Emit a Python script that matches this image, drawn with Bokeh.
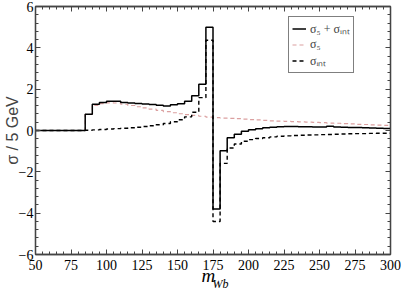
import numpy as np
from bokeh.plotting import figure
from bokeh.models import (Range1d, FixedTicker, LinearAxis, Legend, LegendItem,
                          CustomJSTickFormatter, Title)
from bokeh.embed import file_html
from bokeh.resources import INLINE

# ---- data: 5 GeV bins, lower edges 50 ... 295 ----
bin_lo = list(range(50, 300, 5))
bin_hi_last = 300

sig_total = [0, 0, 0, 0, 0, 0, 0,
             0.79, 1.27, 1.36, 1.42, 1.42, 1.35, 1.33, 1.31, 1.28, 1.26,
             1.22, 1.19, 1.24, 1.30, 1.42, 1.68, 2.24, 5.00, -3.80, -0.98,
             -0.35, -0.18, -0.04, 0.04, 0.09, 0.13, 0.16, 0.18, 0.19, 0.19,
             0.18, 0.18, 0.17, 0.17, 0.20, 0.17, 0.16, 0.15, 0.14, 0.13,
             0.12, 0.11, 0.10]

sig_5 = [0, 0, 0, 0, 0, 0, 0,
         0.78, 1.22, 1.30, 1.34, 1.33, 1.27, 1.21, 1.15, 1.09, 1.03,
         0.97, 0.91, 0.86, 0.81, 0.77, 0.73, 0.69, 0.65, 0.62, 0.60,
         0.59, 0.57, 0.55, 0.53, 0.51, 0.49, 0.47, 0.45, 0.44, 0.43,
         0.42, 0.41, 0.39, 0.38, 0.36, 0.35, 0.33, 0.32, 0.30, 0.29,
         0.27, 0.26, 0.25]

sig_int = [0, 0, 0, 0, 0, 0, 0,
           0.01, 0.03, 0.05, 0.07, 0.09, 0.11, 0.13, 0.16, 0.19, 0.23,
           0.28, 0.34, 0.42, 0.52, 0.66, 0.88, 1.59, 4.37, -4.40, -1.59,
           -0.85, -0.65, -0.52, -0.44, -0.39, -0.35, -0.31, -0.28, -0.26, -0.24,
           -0.23, -0.22, -0.21, -0.20, -0.19, -0.18, -0.17, -0.16, -0.15, -0.15,
           -0.14, -0.13, -0.13]

x_ticks = [50, 75, 100, 125, 150, 175, 200, 225, 250, 275, 300]
y_ticks = [-6, -4, -2, 0, 2, 4, 6]

label_total = "σ₅ + σᵢₙₜ"
label_5 = "σ₅"
label_int = "σᵢₙₜ"
y_title = "σ / 5 GeV"
x_title_main = "m"
x_title_sub = "Wb"

# ---- figure ----
SERIF = "Liberation Serif"
SANS = "Liberation Sans"
AX = "#444444"

p = figure(width=401, height=289, output_backend="svg", toolbar_location=None,
           x_range=Range1d(50, 300), y_range=Range1d(-6, 6),
           min_border_left=0, min_border_right=11, min_border_top=6,
           min_border_bottom=0)
p.background_fill_color = "white"
p.border_fill_color = "white"
p.outline_line_color = AX
p.outline_line_width = 1.3
p.xgrid.visible = False
p.ygrid.visible = False

xt = FixedTicker(ticks=x_ticks, minor_ticks=list(np.arange(50, 301, 5)))
yt = FixedTicker(ticks=y_ticks, minor_ticks=list(np.round(np.arange(-6, 6.01, 0.4), 2)))
blank = CustomJSTickFormatter(code="return ''")

def style_axis(ax, labels=True):
    ax.axis_line_color = AX
    ax.axis_line_width = 1.3
    ax.major_tick_line_color = AX
    ax.minor_tick_line_color = AX
    ax.major_tick_in = 5
    ax.major_tick_out = 0
    ax.minor_tick_in = 3
    ax.minor_tick_out = 0
    if labels:
        ax.major_label_text_font = SERIF
        ax.major_label_text_font_size = "14px"
        ax.major_label_text_color = "black"
        ax.major_label_standoff = 3
    else:
        ax.formatter = blank
        ax.major_label_text_font_size = "1px"
        ax.major_label_standoff = 0

p.xaxis.ticker = xt
p.yaxis.ticker = yt
style_axis(p.xaxis[0])
style_axis(p.yaxis[0])
p.yaxis.major_label_standoff = 2
p.xaxis.major_label_standoff = 5

# y title
p.yaxis.axis_label = y_title
p.yaxis.axis_label_text_font = SANS
p.yaxis.axis_label_text_font_style = "normal"
p.yaxis.axis_label_text_font_size = "16px"
p.yaxis.axis_label_standoff = -5

top = LinearAxis(ticker=xt)
style_axis(top, labels=False)
p.add_layout(top, "above")
right = LinearAxis(ticker=yt)
style_axis(right, labels=False)
p.add_layout(right, "right")

# x title: italic m with subscript Wb, as two titles below the axis
t_m = Title(text=x_title_main, align="left", offset=166, standoff=-20,
            text_font=SERIF, text_font_style="italic", text_font_size="19px",
            text_color="black")
p.add_layout(t_m, "below")
t_sub = Title(text=x_title_sub, align="left", offset=177, standoff=-2,
              text_font=SERIF, text_font_style="italic", text_font_size="12px",
              text_color="black")
p.add_layout(t_sub, "below")

# ---- step histograms ----
edges = bin_lo + [bin_hi_last]
def steps(vals):
    return list(vals) + [vals[-1]]

r5 = p.step(edges, steps(sig_5), mode="after", line_color="#dba0a0",
            line_width=1.2, line_dash="4 3")
rint = p.step(edges, steps(sig_int), mode="after", line_color="black",
              line_width=1.4, line_dash="4 3")
rtot = p.step(edges, steps(sig_total), mode="after", line_color="black",
              line_width=1.5)

legend = Legend(items=[LegendItem(label=label_total, renderers=[rtot]),
                       LegendItem(label=label_5, renderers=[r5]),
                       LegendItem(label=label_int, renderers=[rint])],
                location=(253, 181))
legend.border_line_color = "black"
legend.border_line_width = 1
legend.background_fill_color = "white"
legend.background_fill_alpha = 1
legend.padding = 3
legend.spacing = 0
legend.margin = 0
legend.glyph_width = 14
legend.glyph_height = 13
legend.label_height = 13
legend.label_standoff = 4
legend.label_text_font = SERIF
legend.label_text_font_size = "12px"
legend.label_text_line_height = 1.0
legend.label_text_baseline = "middle"
p.add_layout(legend)

open("out.html", "w").write(file_html(p, INLINE))
